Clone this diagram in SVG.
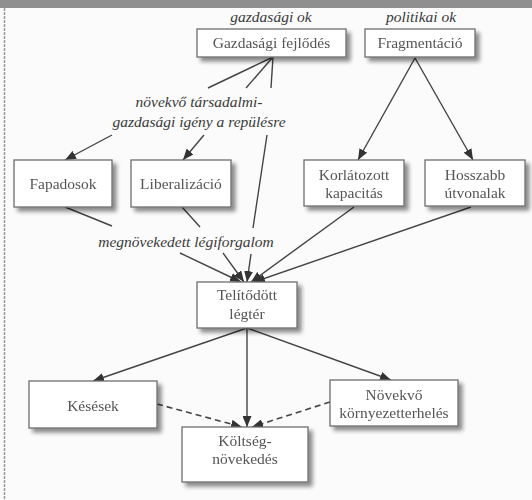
<svg xmlns="http://www.w3.org/2000/svg" width="532" height="500" viewBox="0 0 532 500">
<defs>
<style>
.box{fill:#fff;stroke:#6e6e6e;stroke-width:1.3}
.lbl{font-size:15.5px;fill:#555;text-anchor:middle}
.it{font-size:15.5px;font-style:italic;fill:#3a3a3a;text-anchor:middle}
.ln{fill:none;stroke:#444;stroke-width:1.4}
.ar{fill:none;stroke:#444;stroke-width:1.4;marker-end:url(#ah)}
.da{fill:none;stroke:#444;stroke-width:1.6;stroke-dasharray:6 4;marker-end:url(#ah)}
</style>
<marker id="ah" markerUnits="userSpaceOnUse" markerWidth="11" markerHeight="9" refX="11" refY="4.5" orient="auto">
<path d="M0,0 L11,4.5 L0,9 z" fill="#333"/>
</marker>
<filter id="sh" x="-10%" y="-20%" width="130%" height="150%">
<feGaussianBlur in="SourceAlpha" stdDeviation="2"/>
<feOffset dx="4" dy="4" result="b"/>
<feComponentTransfer><feFuncA type="linear" slope="0.45"/></feComponentTransfer>
<feMerge><feMergeNode/><feMergeNode in="SourceGraphic"/></feMerge>
</filter>
</defs>
<rect width="532" height="500" fill="#fbfbfb"/>
<rect x="0" y="0" width="532" height="8" fill="#8f8f8f"/>
<line x1="4.5" y1="8" x2="4.5" y2="500" stroke="#9a9a9a" stroke-width="1.5" stroke-dasharray="3 1"/>

<g font-family="Liberation Serif, DejaVu Serif, Times New Roman, serif">
<text class="it" x="271" y="22">gazdasági ok</text>
<text class="it" x="421" y="22">politikai ok</text>
<text class="it" x="199" y="107">növekvő társadalmi-</text>
<text class="it" x="199" y="127">gazdasági igény a repülésre</text>
<text class="it" x="186" y="247">megnövekedett légiforgalom</text>
</g>

<g id="connectors">
<polyline class="ln" points="208,88 273,57"/>
<polyline class="ln" points="246,88 273,57"/>
<polyline class="ln" points="271,88 273,57"/>
<line class="ar" x1="112" y1="135" x2="65" y2="160"/>
<line class="ar" x1="204" y1="135" x2="183" y2="160"/>
<line class="ln" x1="267" y1="135" x2="253" y2="228"/>
<line class="ar" x1="251" y1="254" x2="247" y2="282"/>
<line class="ar" x1="415" y1="58" x2="358" y2="160"/>
<line class="ar" x1="415" y1="58" x2="473" y2="160"/>
<line class="ln" x1="65" y1="207" x2="112" y2="226"/>
<line class="ln" x1="182" y1="207" x2="200" y2="227"/>
<line class="ar" x1="180" y1="253" x2="241" y2="282"/>
<line class="ar" x1="223" y1="253" x2="244" y2="282"/>
<line class="ar" x1="354" y1="207" x2="251" y2="282"/>
<line class="ar" x1="471" y1="207" x2="254" y2="282"/>
<line class="ar" x1="247" y1="328" x2="93" y2="381"/>
<line class="ar" x1="247" y1="328" x2="247" y2="427"/>
<line class="ar" x1="247" y1="328" x2="391" y2="380"/>
<line class="da" x1="157" y1="404" x2="242" y2="427"/>
<line class="da" x1="330" y1="402" x2="252" y2="427"/>
</g>

<g font-family="Liberation Serif, DejaVu Serif, Times New Roman, serif">
<g id="gazdasagi" filter="url(#sh)"><rect class="box" x="197" y="29" width="149" height="28"/><text class="lbl" x="271.5" y="48">Gazdasági fejlődés</text></g>
<g id="fragmentacio" filter="url(#sh)"><rect class="box" x="365" y="29" width="110" height="28"/><text class="lbl" x="420" y="48">Fragmentáció</text></g>
<g id="fapadosok" filter="url(#sh)"><rect class="box" x="14" y="160" width="98" height="47"/><text class="lbl" x="63" y="189">Fapadosok</text></g>
<g id="liberalizacio" filter="url(#sh)"><rect class="box" x="131" y="160" width="100" height="47"/><text class="lbl" x="181" y="189">Liberalizáció</text></g>
<g id="korlatozott" filter="url(#sh)"><rect class="box" x="304" y="160" width="100" height="46"/><text class="lbl" x="354" y="180">Korlátozott</text><text class="lbl" x="354" y="198">kapacitás</text></g>
<g id="hosszabb" filter="url(#sh)"><rect class="box" x="425" y="160" width="100" height="46"/><text class="lbl" x="475" y="180">Hosszabb</text><text class="lbl" x="475" y="198">útvonalak</text></g>
<g id="telitodott" filter="url(#sh)"><rect class="box" x="197" y="282" width="100" height="46"/><text class="lbl" x="247" y="300">Telítődött</text><text class="lbl" x="247" y="319">légtér</text></g>
<g id="kesesek" filter="url(#sh)"><rect class="box" x="29" y="381" width="128" height="47"/><text class="lbl" x="93" y="411">Késések</text></g>
<g id="novekvo" filter="url(#sh)"><rect class="box" x="330" y="380" width="128" height="46"/><text class="lbl" x="394" y="400">Növekvő</text><text class="lbl" x="394" y="418">környezetterhelés</text></g>
<g id="koltseg" filter="url(#sh)"><rect class="box" x="182" y="427" width="126" height="55"/><text class="lbl" x="245" y="446">Költség-</text><text class="lbl" x="245" y="464">növekedés</text></g>
</g>
</svg>
